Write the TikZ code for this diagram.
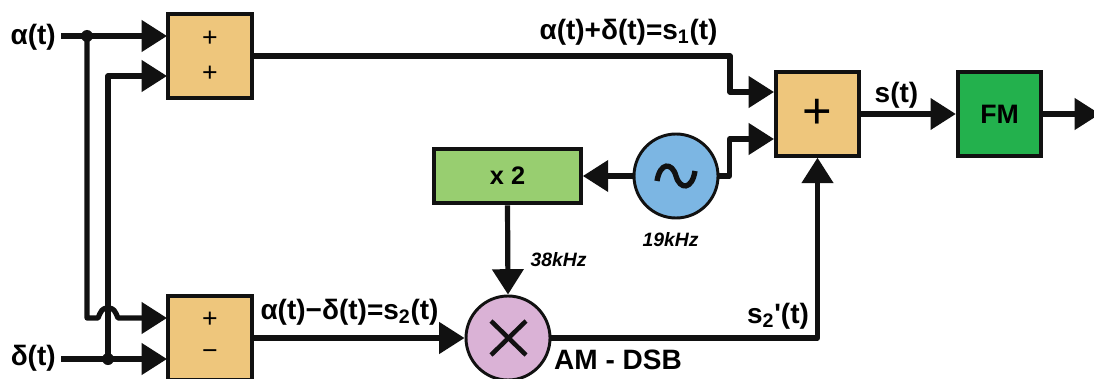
\documentclass[tikz,border=0pt]{standalone}
\usepackage{fontspec}
\setmainfont{Liberation Sans}
\usetikzlibrary{arrows.meta}
\definecolor{boxorange}{HTML}{EEC67C}
\definecolor{boxgreen}{HTML}{98CE70}
\definecolor{fmgreen}{HTML}{23B14D}
\definecolor{oscblue}{HTML}{7CB6E3}
\definecolor{mixpink}{HTML}{DAB2D6}
\definecolor{linedark}{HTML}{111111}
\tikzset{
    wire/.style={draw=linedark, line width=3.9pt, line join=round},
    arrowwire/.style={wire, -{Triangle[length=19pt, width=23pt]}},
    blockbox/.style={draw=linedark, line width=3pt, inner sep=0pt, minimum width=62.5pt, minimum height=62.5pt},
    roundbox/.style={draw=linedark, line width=2.2pt, circle, inner sep=0pt, minimum size=63pt},
    lbl/.style={inner sep=0pt, font=\fontsize{21}{24}\bfseries},
    smalllbl/.style={inner sep=0pt, font=\fontsize{14.5}{16}\bfseries\itshape},
    signlbl/.style={inner sep=0pt, font=\fontsize{20}{22}\selectfont},
    dotmark/.style={circle, fill=linedark, inner sep=0pt, minimum size=9pt},
}
\begin{document}
\begin{tikzpicture}[x=0.75pt, y=-0.75pt]
        \useasboundingbox (0,0) rectangle (1094,378);

        \node (addtop) [blockbox, fill=boxorange] at (210,56) {};
        \node (addbot) [blockbox, fill=boxorange] at (210,338) {};
        \node (addout) [blockbox, fill=boxorange] at (817.5,114) {};
        \node (fm) [blockbox, fill=fmgreen, font=\fontsize{20}{22}\bfseries] at (999.5,114) {FM};
        \node (dbl) [blockbox, fill=boxgreen, minimum width=110pt, minimum height=41pt, font=\fontsize{19}{20}\bfseries] at (507.5,176) {x 2};
        \node (osc) [roundbox, fill=oscblue] at (676,176) {};
        \node (mix) [roundbox, fill=mixpink] at (508,338) {};

        \node (plusa) [signlbl] at (210,39) {+};
        \node (plusb) [signlbl] at (210,74) {+};
        \node (plusc) [signlbl] at (210,320) {+};
        \node (minus) [signlbl] at (210,355) {−};
        \node (plusd) [inner sep=0pt, font=\fontsize{38}{40}\selectfont] at (817,114) {+};

        \node (alpha) [lbl, anchor=east] at (56,37) {α(t)};
        \node (delta) [lbl, anchor=east] at (56,358) {δ(t)};
        \node (sumlbl) [lbl] at (628.5,32) {α(t)+δ(t)=s\textsubscript{1}(t)};
        \node (diflbl) [lbl] at (349.5,312) {α(t)−δ(t)=s\textsubscript{2}(t)};
        \node (slbl) [lbl] at (896.5,95) {s(t)};
        \node (sprime) [lbl] at (778,316) {s\textsubscript{2}\textquotesingle(t)};
        \node (amlbl) [lbl] at (618,360) {AM - DSB};
        \node (lbla) [smalllbl] at (558.5,260) {38kHz};
        \node (lblb) [smalllbl] at (670.5,240) {19kHz};

        \coordinate (topa) at (167,36);
        \coordinate (topb) at (167,76);
        \coordinate (bota) at (167,318);
        \coordinate (botb) at (167,359);
        \coordinate (outa) at (774,92);
        \coordinate (outb) at (774,139);
        \coordinate (forka) at (87,36);
        \coordinate (forkb) at (108,359);
        \coordinate (endout) at (1100,114);

        \draw [arrowwire] (alpha.east |- topa) ++(5,0) -- (topa);
        \draw [arrowwire] (delta.east |- botb) ++(5,0) -- (botb);
        \draw [arrowwire] (forkb) -- (forkb |- topb) -- (topb);
        \draw [arrowwire] (forka) -- (forka |- bota) -- ++(11,0)
            .. controls ++(3,-7) and ++(-6,0) .. ++(10,-10)
            .. controls ++(6,0) and ++(-3,-7) .. ++(10,10) -- (bota);
        \node (dota) [dotmark] at (forka) {};
        \node (dotb) [dotmark] at (forkb) {};

        \draw [arrowwire] (addtop.east) -- (addtop.east -| 730,0) -- (730,0 |- outa) -- (outa);
        \draw [arrowwire] (osc.east) -- ++(10,0) -- ++(0,-37) -- (outb);
        \draw [arrowwire] (osc.west) -- (dbl.east);
        \draw [arrowwire] (dbl.south) -- (mix.north);
        \draw [arrowwire] (addbot.east) -- (mix.west);
        \draw [arrowwire] (mix.east) -- (mix.east -| addout.south) -- (addout.south);
        \draw [arrowwire] (addout.east) -- (fm.west);
        \draw [arrowwire] (fm.east) -- (endout);

        \draw [line width=3.4pt, linedark] (491,321) -- (526,355);
        \draw [line width=3.4pt, linedark] (526,321) -- (491,355);
        \draw [line width=4pt, linedark] (657,181) .. controls (660,162) and (672,162) .. (676,176)
            .. controls (680,190) and (692,190) .. (695,171);
    \end{tikzpicture}
\end{document}
